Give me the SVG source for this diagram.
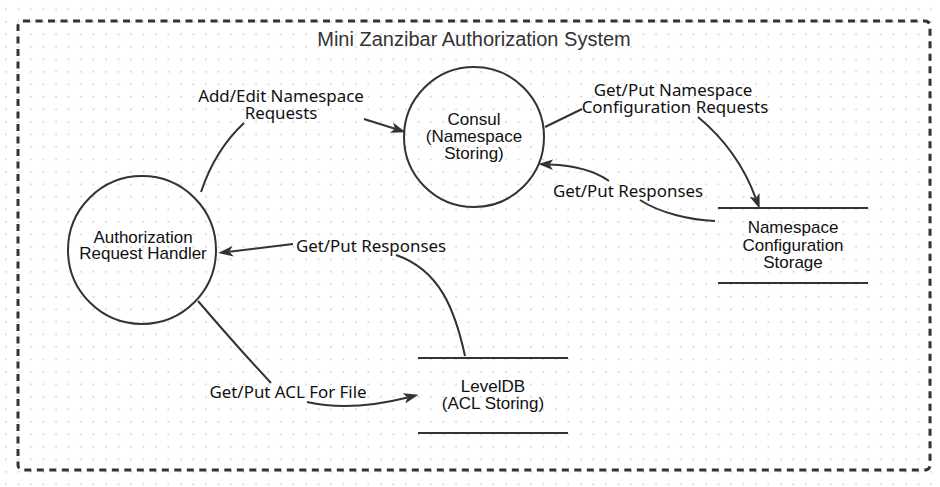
<svg xmlns="http://www.w3.org/2000/svg" width="940" height="487" viewBox="0 0 940 487">
<style>
.node{fill:none;stroke:#333;stroke-width:2}
.ntext{font-family:"Liberation Sans",Arial,sans-serif;font-size:17px;fill:#111;text-anchor:middle}
.etext{font-family:"Noto Sans","Open Sans",sans-serif;font-size:16.9px;fill:#111;text-anchor:middle}
.edge{fill:none;stroke:#333;stroke-width:2}
.arr{marker-end:url(#ah)}
</style>
<defs>
<pattern id="grid" patternUnits="userSpaceOnUse" x="0" y="0" width="12.5" height="12.5">
<circle cx="6" cy="9.3" r="0.9" fill="#c9c9c9"/>
</pattern>
<marker id="ah" markerUnits="userSpaceOnUse" markerWidth="15" markerHeight="11" refX="3.5" refY="5" orient="auto" viewBox="0 0 14 10">
<path d="M0,0 L14,5 L0,10 L3.5,5 Z" fill="#333"/>
</marker>
</defs>
<rect width="940" height="487" fill="#fff"/>
<rect width="940" height="487" fill="url(#grid)"/>
<g id="system-boundary">
<rect x="18" y="21" width="912" height="449" rx="5" fill="none" stroke="#333" stroke-width="3" stroke-dasharray="7 5.5"/>
<text x="474" y="46" style="font-family:'Liberation Sans',Arial,sans-serif;font-size:20px;fill:#333;text-anchor:middle">Mini Zanzibar Authorization System</text>
</g>
<g id="connectors">
<path class="edge" d="M201,192 Q215,150 244,123"/>
<path class="edge arr" d="M364,119 L395,128.8"/>
<text class="etext" x="281" y="102">Add/Edit Namespace<tspan x="281" dy="17">Requests</tspan></text>

<path class="edge" d="M545,127 L582,109"/>
<path class="edge arr" d="M698,117 Q738,150 755.8,198.3"/>
<text class="etext" x="673" y="96">Get/Put Namespace<tspan x="675" dy="17">Configuration Requests</tspan></text>

<path class="edge" d="M715,221 C690,220 660,213 640,200"/>
<path class="edge arr" d="M609,181 Q588,166 549.4,164.5"/>
<text class="etext" x="628" y="197">Get/Put Responses</text>

<path class="edge" d="M465,356 C455,310 440,270 396,255"/>
<path class="edge arr" d="M293,244 L229.4,251.7"/>
<text class="etext" x="371" y="252">Get/Put Responses</text>

<path class="edge" d="M198,301 Q240,350 271,383"/>
<path class="edge arr" d="M307,402 Q350,412 407.6,397.5"/>
<text class="etext" x="288" y="398">Get/Put ACL For File</text>
</g>
<g id="consul">
<circle class="node" cx="474" cy="137" r="70" fill="#fff"/>
<text class="ntext" x="474" y="125">Consul<tspan x="474" dy="17">(Namespace</tspan><tspan x="474" dy="17">Storing)</tspan></text>
</g>
<g id="auth-handler">
<circle class="node" cx="142" cy="250" r="74"/>
<text class="ntext" x="143" y="243">Authorization<tspan x="143" dy="16">Request Handler</tspan></text>
</g>
<g id="ns-config-storage">
<line class="node" x1="718" y1="208" x2="868" y2="208"/>
<line class="node" x1="718" y1="283" x2="868" y2="283"/>
<text class="ntext" x="793" y="233">Namespace<tspan x="793" dy="18">Configuration</tspan><tspan x="793" dy="17">Storage</tspan></text>
</g>
<g id="leveldb">
<line class="node" x1="418" y1="358" x2="568" y2="358"/>
<line class="node" x1="418" y1="433" x2="568" y2="433"/>
<text class="ntext" x="493" y="392">LevelDB<tspan x="493" dy="17">(ACL Storing)</tspan></text>
</g>
</svg>
